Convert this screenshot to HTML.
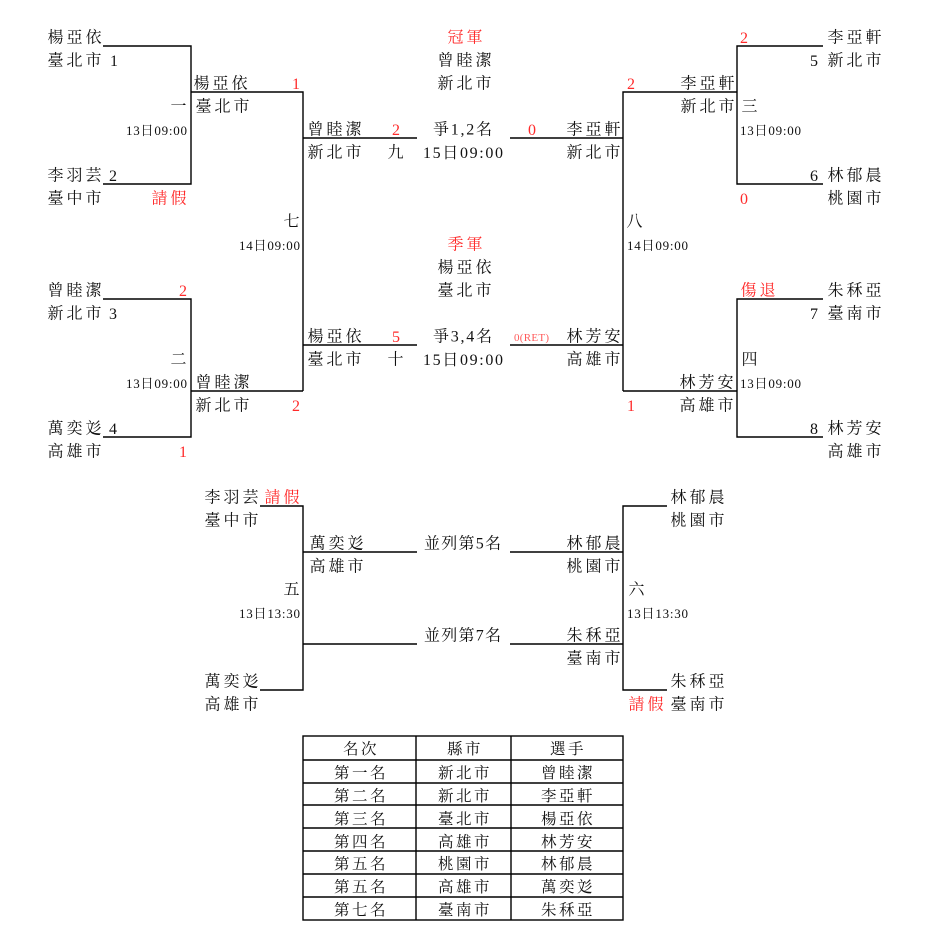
<!DOCTYPE html>
<html><head><meta charset="utf-8">
<style>
html,body{margin:0;padding:0;background:#fff;}
svg{display:block;}
text{font-family:"Liberation Serif","Noto Serif CJK SC","Noto Serif CJK TC",serif;fill:#111;}
.n{font-size:16px;letter-spacing:3px;}
.d{font-size:16px;}
.s{font-size:13px;}
.r{fill:#ff2a2a;}
.t{font-size:15.5px;letter-spacing:2.5px;}
</style></head>
<body>
<svg width="929" height="944" viewBox="0 0 929 944" xmlns="http://www.w3.org/2000/svg">
<rect width="929" height="944" fill="#fff"/>
<g stroke="#000" stroke-width="1.4" fill="none">
<path d="M103 46H191V184H103"/>
<path d="M191 92H303V391"/>
<path d="M303 138H417"/>
<path d="M303 345H417"/>
<path d="M103 299H191V437H103"/>
<path d="M191 391H303"/>
<path d="M823 46H737V184H823"/>
<path d="M737 92H623V391"/>
<path d="M510 138H623"/>
<path d="M510 345H623"/>
<path d="M823 299H737V437H823"/>
<path d="M623 391H737"/>
<path d="M260 506H303V690H260"/>
<path d="M303 552H417"/>
<path d="M303 644H417"/>
<path d="M510 552H623"/>
<path d="M510 644H623"/>
<path d="M667 506H623V690H667"/>
<rect x="303" y="736" width="320" height="184"/>
<path d="M416 736V920M511 736V920"/>
<path d="M303 760H623M303 783H623M303 805H623M303 828H623M303 851H623M303 874H623M303 897H623"/>
</g>

<text class="n" x="47.5" y="42.5">楊亞依</text>
<text class="n r" x="447.5" y="42.5">冠軍</text>
<text class="d r" x="740" y="43">2</text>
<text class="n" x="827.5" y="42.5">李亞軒</text>

<text class="n" x="47.5" y="65.5">臺北市</text>
<text class="d" x="110" y="66">1</text>
<text class="n" x="437.5" y="65.5">曾睦潔</text>
<text class="d" x="810" y="66">5</text>
<text class="n" x="827.5" y="65.5">新北市</text>

<text class="n" x="193.5" y="88.5">楊亞依</text>
<text class="d r" x="292" y="89">1</text>
<text class="n" x="437.5" y="88.5">新北市</text>
<text class="d r" x="627" y="89">2</text>
<text class="n" x="680.5" y="88.5">李亞軒</text>

<text class="n" x="170.5" y="111.5">一</text>
<text class="n" x="195.5" y="111.5">臺北市</text>
<text class="n" x="680.5" y="111.5">新北市</text>
<text class="n" x="741.5" y="111.5">三</text>

<text class="s" x="126" y="135" textLength="61" lengthAdjust="spacing">13日09:00</text>
<text class="n" x="307.5" y="134.5">曾睦潔</text>
<text class="d r" x="392" y="135">2</text>
<text class="n" x="433" y="134.5" textLength="59" lengthAdjust="spacing" style="letter-spacing:0">爭1,2名</text>
<text class="d r" x="528" y="135">0</text>
<text class="n" x="566.5" y="134.5">李亞軒</text>
<text class="s" x="740" y="135" textLength="61" lengthAdjust="spacing">13日09:00</text>

<text class="n" x="307.5" y="157.5">新北市</text>
<text class="n" x="387.5" y="157.5">九</text>
<text class="d" x="423" y="158" textLength="80" lengthAdjust="spacing">15日09:00</text>
<text class="n" x="566.5" y="157.5">新北市</text>

<text class="n" x="47.5" y="180.5">李羽芸</text>
<text class="d" x="109" y="181">2</text>
<text class="d" x="810" y="181">6</text>
<text class="n" x="827.5" y="180.5">林郁晨</text>

<text class="n" x="47.5" y="203.5">臺中市</text>
<text class="n r" x="151.5" y="203.5">請假</text>
<text class="d r" x="740" y="204">0</text>
<text class="n" x="827.5" y="203.5">桃園市</text>

<text class="n" x="283.5" y="226.5">七</text>
<text class="n" x="626.5" y="226.5">八</text>

<text class="s" x="239" y="250" textLength="61" lengthAdjust="spacing">14日09:00</text>
<text class="n r" x="447.5" y="249.5">季軍</text>
<text class="s" x="627" y="250" textLength="61" lengthAdjust="spacing">14日09:00</text>

<text class="n" x="437.5" y="272.5">楊亞依</text>

<text class="n" x="47.5" y="295.5">曾睦潔</text>
<text class="d r" x="179" y="296">2</text>
<text class="n" x="437.5" y="295.5">臺北市</text>
<text class="n r" x="740.5" y="295.5">傷退</text>
<text class="n" x="827.5" y="295.5">朱秝亞</text>

<text class="n" x="47.5" y="318.5">新北市</text>
<text class="d" x="109" y="319">3</text>
<text class="d" x="810" y="319">7</text>
<text class="n" x="827.5" y="318.5">臺南市</text>

<text class="n" x="307.5" y="341.5">楊亞依</text>
<text class="d r" x="392" y="342">5</text>
<text class="n" x="433" y="341.5" textLength="59" lengthAdjust="spacing" style="letter-spacing:0">爭3,4名</text>
<text x="514" y="341" textLength="35" lengthAdjust="spacing" style="font-size:11px;fill:#ff5a5a">0(RET)</text>
<text class="n" x="566.5" y="341.5">林芳安</text>

<text class="n" x="170.5" y="364.5">二</text>
<text class="n" x="307.5" y="364.5">臺北市</text>
<text class="n" x="387.5" y="364.5">十</text>
<text class="d" x="423" y="365" textLength="80" lengthAdjust="spacing">15日09:00</text>
<text class="n" x="566.5" y="364.5">高雄市</text>
<text class="n" x="741.5" y="364.5">四</text>

<text class="s" x="126" y="388" textLength="61" lengthAdjust="spacing">13日09:00</text>
<text class="n" x="195.5" y="387.5">曾睦潔</text>
<text class="n" x="679.5" y="387.5">林芳安</text>
<text class="s" x="740" y="388" textLength="61" lengthAdjust="spacing">13日09:00</text>

<text class="n" x="195.5" y="410.5">新北市</text>
<text class="d r" x="292" y="411">2</text>
<text class="d r" x="627" y="411">1</text>
<text class="n" x="679.5" y="410.5">高雄市</text>

<text class="n" x="47.5" y="433.5">萬奕彣</text>
<text class="d" x="109" y="434">4</text>
<text class="d" x="810" y="434">8</text>
<text class="n" x="827.5" y="433.5">林芳安</text>

<text class="n" x="47.5" y="456.5">高雄市</text>
<text class="d r" x="179" y="457">1</text>
<text class="n" x="827.5" y="456.5">高雄市</text>

<text class="n" x="204.5" y="502.5">李羽芸</text>
<text class="n r" x="264.5" y="502.5">請假</text>
<text class="n" x="670.5" y="502.5">林郁晨</text>

<text class="n" x="204.5" y="525.5">臺中市</text>
<text class="n" x="670.5" y="525.5">桃園市</text>

<text class="n" x="309.5" y="548.5">萬奕彣</text>
<text class="n" x="424" y="548.5" textLength="77" lengthAdjust="spacing" style="letter-spacing:0">並列第5名</text>
<text class="n" x="566.5" y="548.5">林郁晨</text>

<text class="n" x="309.5" y="571.5">高雄市</text>
<text class="n" x="566.5" y="571.5">桃園市</text>

<text class="n" x="283.5" y="594.5">五</text>
<text class="n" x="628.5" y="594.5">六</text>

<text class="s" x="239" y="618" textLength="61" lengthAdjust="spacing">13日13:30</text>
<text class="s" x="627" y="618" textLength="61" lengthAdjust="spacing">13日13:30</text>

<text class="n" x="424" y="640.5" textLength="77" lengthAdjust="spacing" style="letter-spacing:0">並列第7名</text>
<text class="n" x="566.5" y="640.5">朱秝亞</text>

<text class="n" x="566.5" y="663.5">臺南市</text>

<text class="n" x="204.5" y="686.5">萬奕彣</text>
<text class="n" x="670.5" y="686.5">朱秝亞</text>

<text class="n" x="204.5" y="709.5">高雄市</text>
<text class="n r" x="628.5" y="709.5">請假</text>
<text class="n" x="670.5" y="709.5">臺南市</text>

<g text-anchor="middle">
<text class="t" x="361" y="754">名次</text>
<text class="t" x="465" y="754">縣市</text>
<text class="t" x="568" y="754">選手</text>

<text class="t" x="361" y="778">第一名</text>
<text class="t" x="465" y="778">新北市</text>
<text class="t" x="568" y="778">曾睦潔</text>

<text class="t" x="361" y="801">第二名</text>
<text class="t" x="465" y="801">新北市</text>
<text class="t" x="568" y="801">李亞軒</text>

<text class="t" x="361" y="824">第三名</text>
<text class="t" x="465" y="824">臺北市</text>
<text class="t" x="568" y="824">楊亞依</text>

<text class="t" x="361" y="847">第四名</text>
<text class="t" x="465" y="847">高雄市</text>
<text class="t" x="568" y="847">林芳安</text>

<text class="t" x="361" y="869">第五名</text>
<text class="t" x="465" y="869">桃園市</text>
<text class="t" x="568" y="869">林郁晨</text>

<text class="t" x="361" y="892">第五名</text>
<text class="t" x="465" y="892">高雄市</text>
<text class="t" x="568" y="892">萬奕彣</text>

<text class="t" x="361" y="915">第七名</text>
<text class="t" x="465" y="915">臺南市</text>
<text class="t" x="568" y="915">朱秝亞</text>
</g>
</svg>
</body></html>
